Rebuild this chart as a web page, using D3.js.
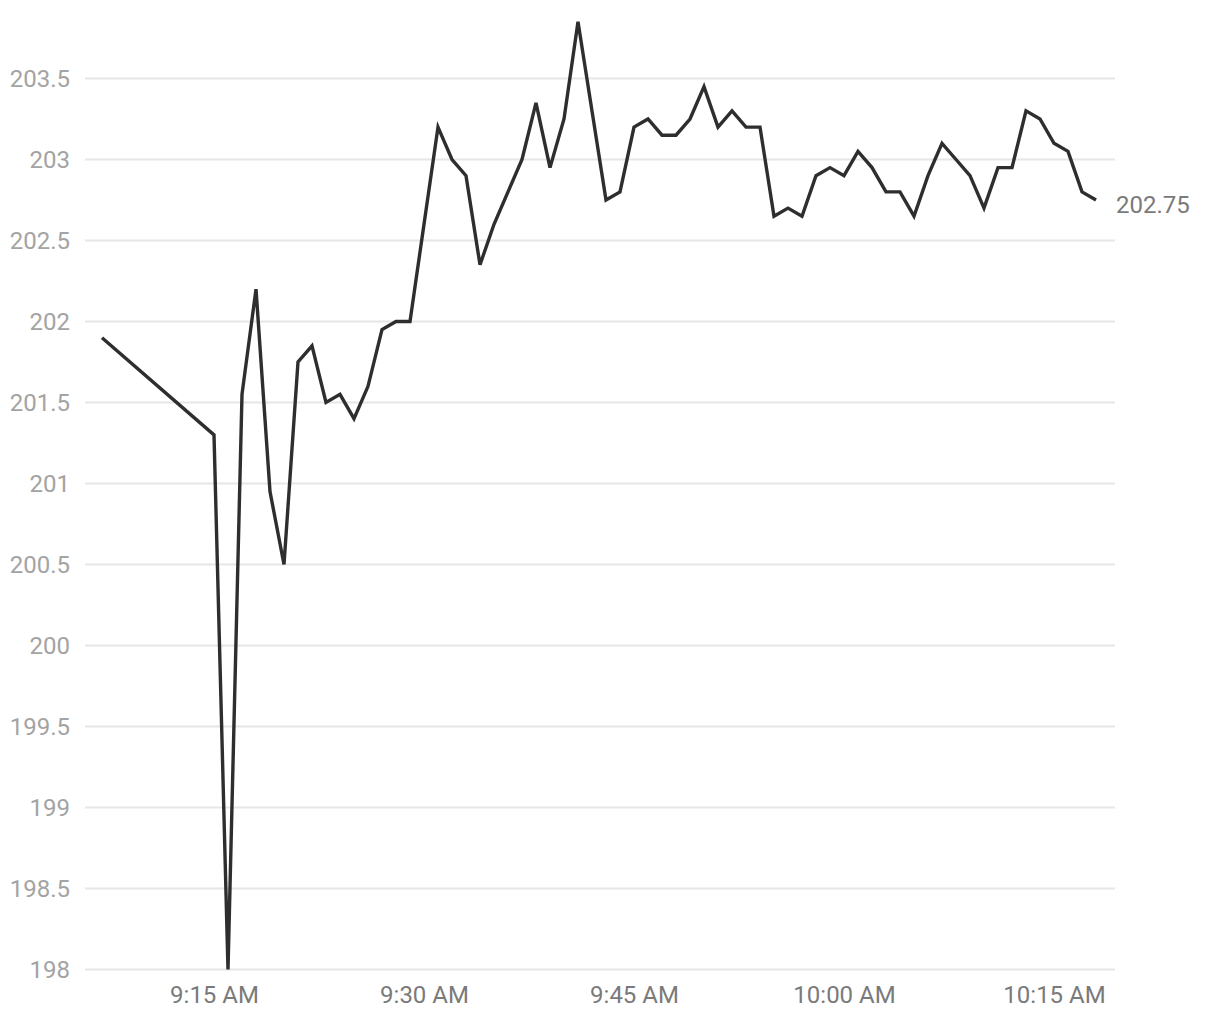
<!DOCTYPE html>
<html>
<head>
    <meta charset="utf-8">
    <title>Intraday Price</title>
    <script src="https://d3js.org/d3.v7.min.js"></script>
    <style>
        body { margin: 0; background: #fff; }
        text { font-family: Roboto, "Noto Sans", sans-serif; }
    </style>
</head>
<body>
    <svg width="1220" height="1020"></svg>
    <script>
        // one sample per minute (gap between 9:07 and 9:15)
        const times = ["9:07", "9:15", "9:16", "9:17", "9:18", "9:19", "9:20", "9:21", "9:22", "9:23",
                       "9:24", "9:25", "9:26", "9:27", "9:28", "9:29", "9:30", "9:31", "9:32", "9:33",
                       "9:34", "9:35", "9:36", "9:37", "9:38", "9:39", "9:40", "9:41", "9:42", "9:43",
                       "9:44", "9:45", "9:46", "9:47", "9:48", "9:49", "9:50", "9:51", "9:52", "9:53",
                       "9:54", "9:55", "9:56", "9:57", "9:58", "9:59", "10:00", "10:01", "10:02", "10:03",
                       "10:04", "10:05", "10:06", "10:07", "10:08", "10:09", "10:10", "10:11", "10:12", "10:13",
                       "10:14", "10:15", "10:16", "10:17", "10:18"];
        const prices = [201.9, 201.3, 198.0, 201.55, 202.2, 200.95, 200.5, 201.75, 201.85, 201.5,
                        201.55, 201.4, 201.6, 201.95, 202.0, 202.0, 202.6, 203.2, 203.0, 202.9,
                        202.35, 202.6, 202.8, 203.0, 203.35, 202.95, 203.25, 203.85, 203.3, 202.75,
                        202.8, 203.2, 203.25, 203.15, 203.15, 203.25, 203.45, 203.2, 203.3, 203.2,
                        203.2, 202.65, 202.7, 202.65, 202.9, 202.95, 202.9, 203.05, 202.95, 202.8,
                        202.8, 202.65, 202.9, 203.1, 203.0, 202.9, 202.7, 202.95, 202.95, 203.3,
                        203.25, 203.1, 203.05, 202.8, 202.75];
        const yTicks = [198, 198.5, 199, 199.5, 200, 200.5, 201, 201.5, 202, 202.5, 203, 203.5];
        const xTicks = ["9:15", "9:30", "9:45", "10:00", "10:15"];

        const parse = d3.timeParse("%H:%M");
        const data = times.map((t, i) => ({ t: parse(t), v: prices[i] }));

        const svg = d3.select("svg");

        const x = d3.scaleTime()
                    .domain(d3.extent(data, d => d.t))
                    .range([102, 1096]);

        const y = d3.scaleLinear()
                    .domain([198, 203.5])
                    .range([969.5, 78.5]);

        const gridLeft = 85, gridRight = 1115;

        // horizontal grid + y labels
        const grid = svg.append("g");
        grid.selectAll("line")
            .data(yTicks)
            .enter().append("line")
            .attr("x1", gridLeft)
            .attr("x2", gridRight)
            .attr("y1", d => y(d))
            .attr("y2", d => y(d))
            .attr("stroke", "#e6e6e6")
            .attr("stroke-width", 2);

        grid.selectAll("text")
            .data(yTicks)
            .enter().append("text")
            .attr("x", 70)
            .attr("y", d => y(d))
            .attr("dy", "0.36em")
            .attr("text-anchor", "end")
            .attr("fill", "#a3a3a3")
            .style("font-size", "24px")
            .text(d => String(d));

        // x axis labels, no domain line or ticks
        const xAxis = svg.append("g")
            .attr("transform", "translate(0,972)")
            .call(d3.axisBottom(x)
                    .tickValues(xTicks.map(parse))
                    .tickSize(0)
                    .tickPadding(14)
                    .tickFormat(d3.timeFormat("%-I:%M %p")));
        xAxis.select(".domain").remove();
        xAxis.selectAll("text")
             .attr("fill", "#7a7a7a")
             .style("font-size", "24px")
             .style("font-family", "Roboto, 'Noto Sans', sans-serif");

        // price line
        const line = d3.line()
                       .x(d => x(d.t))
                       .y(d => y(d.v));

        svg.append("path")
           .datum(data)
           .attr("fill", "none")
           .attr("stroke", "#2e2e2e")
           .attr("stroke-width", 3.4)
           .attr("stroke-linejoin", "miter")
           .attr("d", line);

        // last value label
        const last = data[data.length - 1];
        svg.append("text")
           .attr("x", gridRight + 1)
           .attr("y", y(last.v) + 4)
           .attr("dy", "0.36em")
           .attr("fill", "#7a7a7a")
           .style("font-size", "24px")
           .text(last.v);
    </script>
</body>
</html>
